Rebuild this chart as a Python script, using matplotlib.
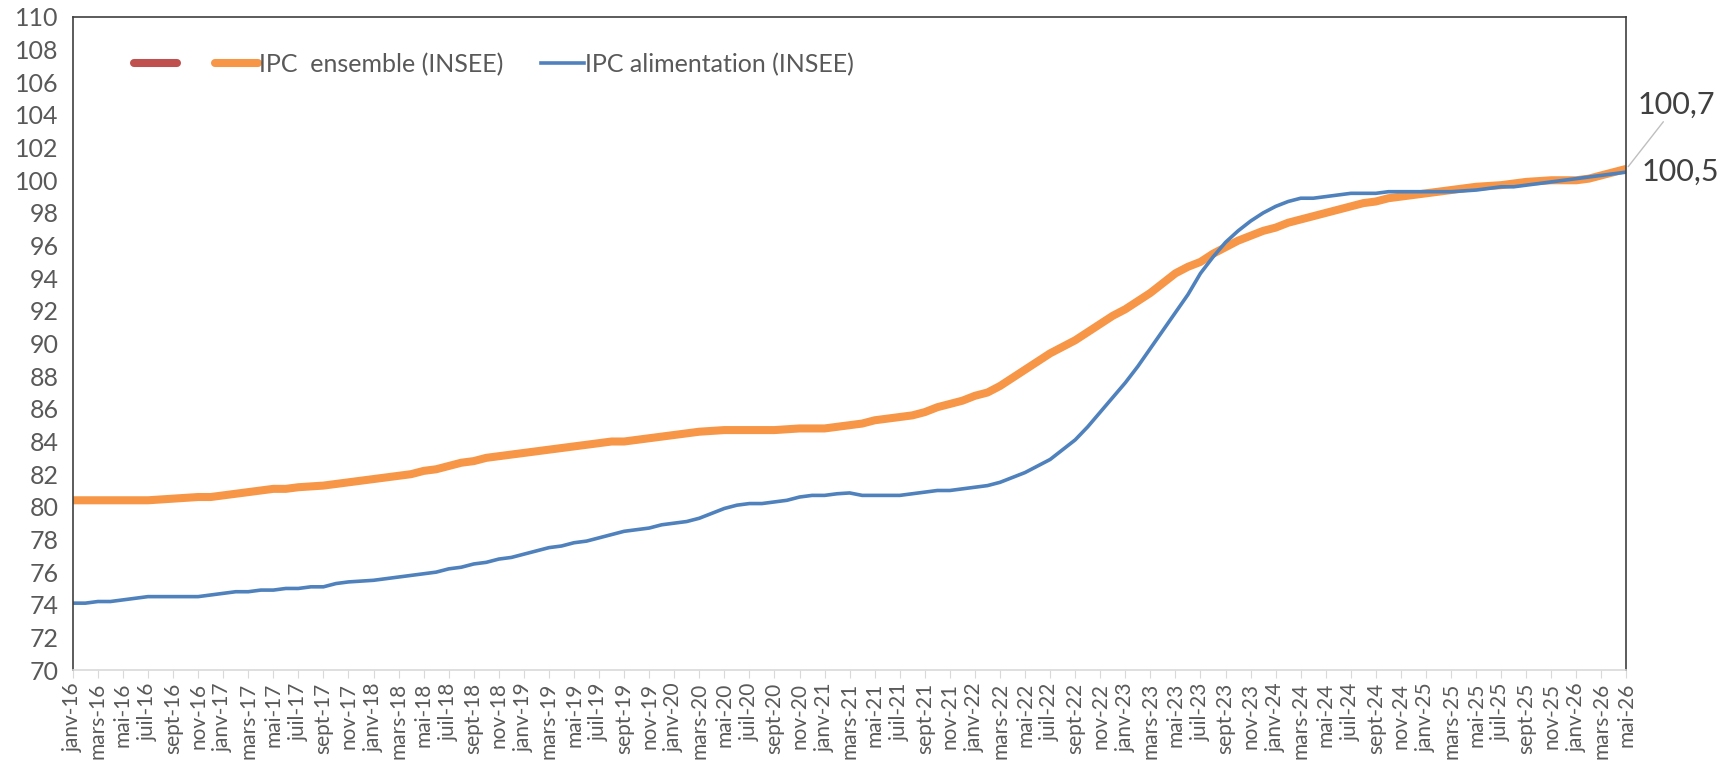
import matplotlib.pyplot as plt
from matplotlib.lines import Line2D

# monthly labels janv-16 .. mai-26
mois = ['janv', 'févr', 'mars', 'avr', 'mai', 'juin', 'juil', 'août', 'sept', 'oct', 'nov', 'déc']
labels = [f"{m}-{y:02d}" for y in range(16, 27) for m in mois][:125]

# IPC ensemble (INSEE)
ipc_ensemble = [
    80.4, 80.4, 80.4, 80.4, 80.4, 80.4, 80.4, 80.45, 80.5, 80.55, 80.6, 80.6,
    80.7, 80.8, 80.9, 81.0, 81.1, 81.1, 81.2, 81.25, 81.3, 81.4, 81.5, 81.6,
    81.7, 81.8, 81.9, 82.0, 82.2, 82.3, 82.5, 82.7, 82.8, 83.0, 83.1, 83.2,
    83.3, 83.4, 83.5, 83.6, 83.7, 83.8, 83.9, 84.0, 84.0, 84.1, 84.2, 84.3,
    84.4, 84.5, 84.6, 84.65, 84.7, 84.7, 84.7, 84.7, 84.7, 84.75, 84.8, 84.8,
    84.8, 84.9, 85.0, 85.1, 85.3, 85.4, 85.5, 85.6, 85.8, 86.1, 86.3, 86.5,
    86.8, 87.0, 87.4, 87.9, 88.4, 88.9, 89.4, 89.8, 90.2, 90.7, 91.2, 91.7,
    92.1, 92.6, 93.1, 93.7, 94.3, 94.7, 95.0, 95.5, 95.9, 96.3, 96.6, 96.9,
    97.1, 97.4, 97.6, 97.8, 98.0, 98.2, 98.4, 98.6, 98.7, 98.9, 99.0, 99.1,
    99.2, 99.3, 99.4, 99.5, 99.6, 99.65, 99.7, 99.8, 99.9, 99.95, 100.0, 100.0,
    100.0, 100.1, 100.3, 100.5, 100.7,
]

# IPC alimentation (INSEE)
ipc_alim = [
    74.1, 74.1, 74.2, 74.2, 74.3, 74.4, 74.5, 74.5, 74.5, 74.5, 74.5, 74.6,
    74.7, 74.8, 74.8, 74.9, 74.9, 75.0, 75.0, 75.1, 75.1, 75.3, 75.4, 75.45,
    75.5, 75.6, 75.7, 75.8, 75.9, 76.0, 76.2, 76.3, 76.5, 76.6, 76.8, 76.9,
    77.1, 77.3, 77.5, 77.6, 77.8, 77.9, 78.1, 78.3, 78.5, 78.6, 78.7, 78.9,
    79.0, 79.1, 79.3, 79.6, 79.9, 80.1, 80.2, 80.2, 80.3, 80.4, 80.6, 80.7,
    80.7, 80.8, 80.85, 80.7, 80.7, 80.7, 80.7, 80.8, 80.9, 81.0, 81.0, 81.1,
    81.2, 81.3, 81.5, 81.8, 82.1, 82.5, 82.9, 83.5, 84.1, 84.9, 85.8, 86.7,
    87.6, 88.6, 89.7, 90.8, 91.9, 93.0, 94.3, 95.3, 96.2, 96.9, 97.5, 98.0,
    98.4, 98.7, 98.9, 98.9, 99.0, 99.1, 99.2, 99.2, 99.2, 99.3, 99.3, 99.3,
    99.3, 99.3, 99.3, 99.35, 99.4, 99.5, 99.6, 99.6, 99.7, 99.8, 99.9, 100.0,
    100.1, 100.2, 100.3, 100.4, 100.5,
]

plt.rcParams['font.family'] = ['Lato', 'DejaVu Sans']

orange = '#F79646'
bleu = '#4F81BD'
rouge = '#C0504D'
gris = '#595959'

fig = plt.figure(figsize=(17.34, 7.72), dpi=100)
ax = fig.add_axes([0.042, 0.132, 0.896, 0.846])

x = list(range(len(labels)))
ax.plot(x, ipc_ensemble, color=orange, lw=5.8, solid_capstyle='butt')
ax.plot(x, ipc_alim, color=bleu, lw=2.6)

ax.set_xlim(0, len(labels) - 1)
ax.set_ylim(70, 110)
ax.set_yticks(range(70, 111, 2))
ax.set_xticks(x[::2])
ax.set_xticklabels(labels[::2], rotation=90, fontsize=15, color=gris)
ax.tick_params(axis='y', length=0, labelsize=18, colors=gris, pad=10)
ax.tick_params(axis='x', length=6, color='#D9D9D9', pad=3)

for s in ['left', 'top', 'right']:
    ax.spines[s].set_color('#404040')
    ax.spines[s].set_linewidth(1.2)
ax.spines['bottom'].set_color('#D9D9D9')
ax.spines['bottom'].set_linewidth(1.2)

# dernieres valeurs
last = x[-1]
ax.annotate(f"{ipc_ensemble[-1]:.1f}".replace('.', ','), xy=(last, ipc_ensemble[-1]),
            xytext=(36, 46), textcoords='offset points', ha='center', va='center',
            fontsize=22, color='#404040', annotation_clip=False,
            arrowprops=dict(arrowstyle='-', color='#BFBFBF', lw=1, shrinkA=0, shrinkB=2))
ax.annotate(f"{ipc_alim[-1]:.1f}".replace('.', ','), xy=(last, ipc_alim[-1]),
            xytext=(39, 0), textcoords='offset points', ha='center', va='center',
            fontsize=22, color='#404040', annotation_clip=False)

handles = [
    Line2D([], [], color=rouge, lw=5.8, solid_capstyle='round'),
    Line2D([], [], color=orange, lw=5.8, solid_capstyle='round'),
    Line2D([], [], color=bleu, lw=2.6),
]
leg = ax.legend(handles, ['', 'IPC  ensemble (INSEE)', 'IPC alimentation (INSEE)'],
                ncol=3, loc='upper left', bbox_to_anchor=(0.025, 0.98), frameon=False,
                fontsize=18, handlelength=1.7, handletextpad=0.05, columnspacing=1.5)
for t in leg.get_texts():
    t.set_color(gris)

fig.savefig('out.png', dpi=100)
